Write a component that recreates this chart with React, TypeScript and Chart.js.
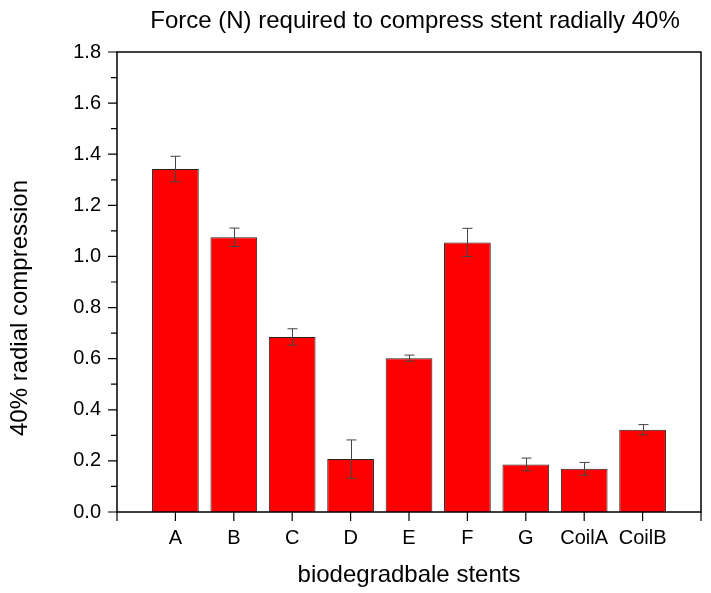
import React, { useEffect, useRef } from "react";
import { Chart, registerables } from "chart.js";

Chart.register(...registerables);

const categories = ["A", "B", "C", "D", "E", "F", "G", "CoilA", "CoilB"];
const values = [1.342, 1.075, 0.685, 0.207, 0.602, 1.055, 0.186, 0.169, 0.322];
const errors = [0.05, 0.036, 0.032, 0.075, 0.012, 0.055, 0.025, 0.025, 0.02];
const yTicks = [0, 0.2, 0.4, 0.6, 0.8, 1.0, 1.2, 1.4, 1.6, 1.8];
const titleText = "Force (N) required to compress stent radially 40%";
const xTitle = "biodegradbale stents";
const yTitle = "40% radial compression";

const FONT = "Arial, 'Liberation Sans', sans-serif";

const framePlugin = {
  id: "frameAndErrors",
  afterDatasetsDraw(chart: any) {
    const { ctx, chartArea, scales } = chart;
    const x = scales.x;
    const y = scales.y;
    ctx.save();
    // error bars
    ctx.strokeStyle = "#444";
    ctx.lineWidth = 1;
    values.forEach((v, i) => {
      const px = Math.round(x.getPixelForValue(i + 1)) + 0.5;
      const top = y.getPixelForValue(v + errors[i]);
      const bot = y.getPixelForValue(v - errors[i]);
      ctx.beginPath();
      ctx.moveTo(px, top);
      ctx.lineTo(px, bot);
      ctx.moveTo(px - 5, top);
      ctx.lineTo(px + 5, top);
      ctx.moveTo(px - 5, bot);
      ctx.lineTo(px + 5, bot);
      ctx.stroke();
    });
    // frame
    ctx.strokeStyle = "#000";
    ctx.lineWidth = 1.5;
    ctx.strokeRect(chartArea.left, chartArea.top, chartArea.right - chartArea.left, chartArea.bottom - chartArea.top);
    // ticks
    ctx.lineWidth = 1.2;
    ctx.beginPath();
    for (let k = 0; k <= 18; k++) {
      const py = y.getPixelForValue(k / 10);
      const len = k % 2 === 0 ? 9 : 6;
      ctx.moveTo(chartArea.left, py);
      ctx.lineTo(chartArea.left - len, py);
    }
    for (let k = 0; k <= 10; k++) {
      const px = x.getPixelForValue(k);
      ctx.moveTo(px, chartArea.bottom);
      ctx.lineTo(px, chartArea.bottom + 9);
    }
    ctx.stroke();
    // titles
    ctx.fillStyle = "#000";
    ctx.font = `24px ${FONT}`;
    ctx.textAlign = "center";
    ctx.textBaseline = "alphabetic";
    ctx.fillText(titleText, 415, 28);
    ctx.fillText(xTitle, (chartArea.left + chartArea.right) / 2, 582);
    ctx.translate(27, 308);
    ctx.rotate(-Math.PI / 2);
    ctx.fillText(yTitle, 0, 0);
    ctx.restore();
  },
};

export default function App() {
  const ref = useRef<HTMLCanvasElement>(null);
  useEffect(() => {
    document.body.style.margin = "0";
    const chart = new Chart(ref.current!, {
      type: "bar",
      data: {
        datasets: [
          {
            data: values.map((v, i) => ({ x: i + 1, y: v })),
            backgroundColor: "#ff0000",
            borderColor: "#222",
            borderWidth: 1,
            barPercentage: 0.8,
            categoryPercentage: 1,
          },
        ],
      },
      options: {
        responsive: false,
        animation: false,
        layout: { padding: { top: 52, right: 10, left: 0, bottom: 0 } },
        plugins: { legend: { display: false }, tooltip: { enabled: false }, title: { display: false } },
        scales: {
          x: {
            type: "linear",
            min: 0,
            max: 10,
            offset: false,
            grid: { display: false, drawTicks: false },
            border: { display: false },
            afterBuildTicks: (s: any) => {
              s.ticks = Array.from({ length: 11 }, (_, k) => ({ value: k }));
            },
            afterFit: (s: any) => {
              s.height = 81;
              s.paddingLeft = 0;
              s.paddingRight = 0;
            },
            ticks: {
              autoSkip: false,
              maxRotation: 0,
              padding: 14,
              color: "#000",
              font: { size: 20, family: FONT },
              callback: (v: any) => categories[Number(v) - 1] ?? "",
            },
          },
          y: {
            min: 0,
            max: 1.8,
            grid: { display: false, drawTicks: false },
            border: { display: false },
            afterBuildTicks: (s: any) => {
              s.ticks = yTicks.map((v) => ({ value: v }));
            },
            afterFit: (s: any) => {
              s.width = 117;
              s.paddingTop = 0;
              s.paddingBottom = 0;
            },
            ticks: {
              padding: 16,
              color: "#000",
              font: { size: 20, family: FONT },
              callback: (v: any) => Number(v).toFixed(1),
            },
          },
        },
      },
      plugins: [framePlugin],
    } as any);
    return () => chart.destroy();
  }, []);
  return (
    <div style={{ position: "absolute", left: 0, top: 0, width: 711, height: 593, background: "#fff" }}>
      <canvas ref={ref} width={711} height={593} />
    </div>
  );
}
